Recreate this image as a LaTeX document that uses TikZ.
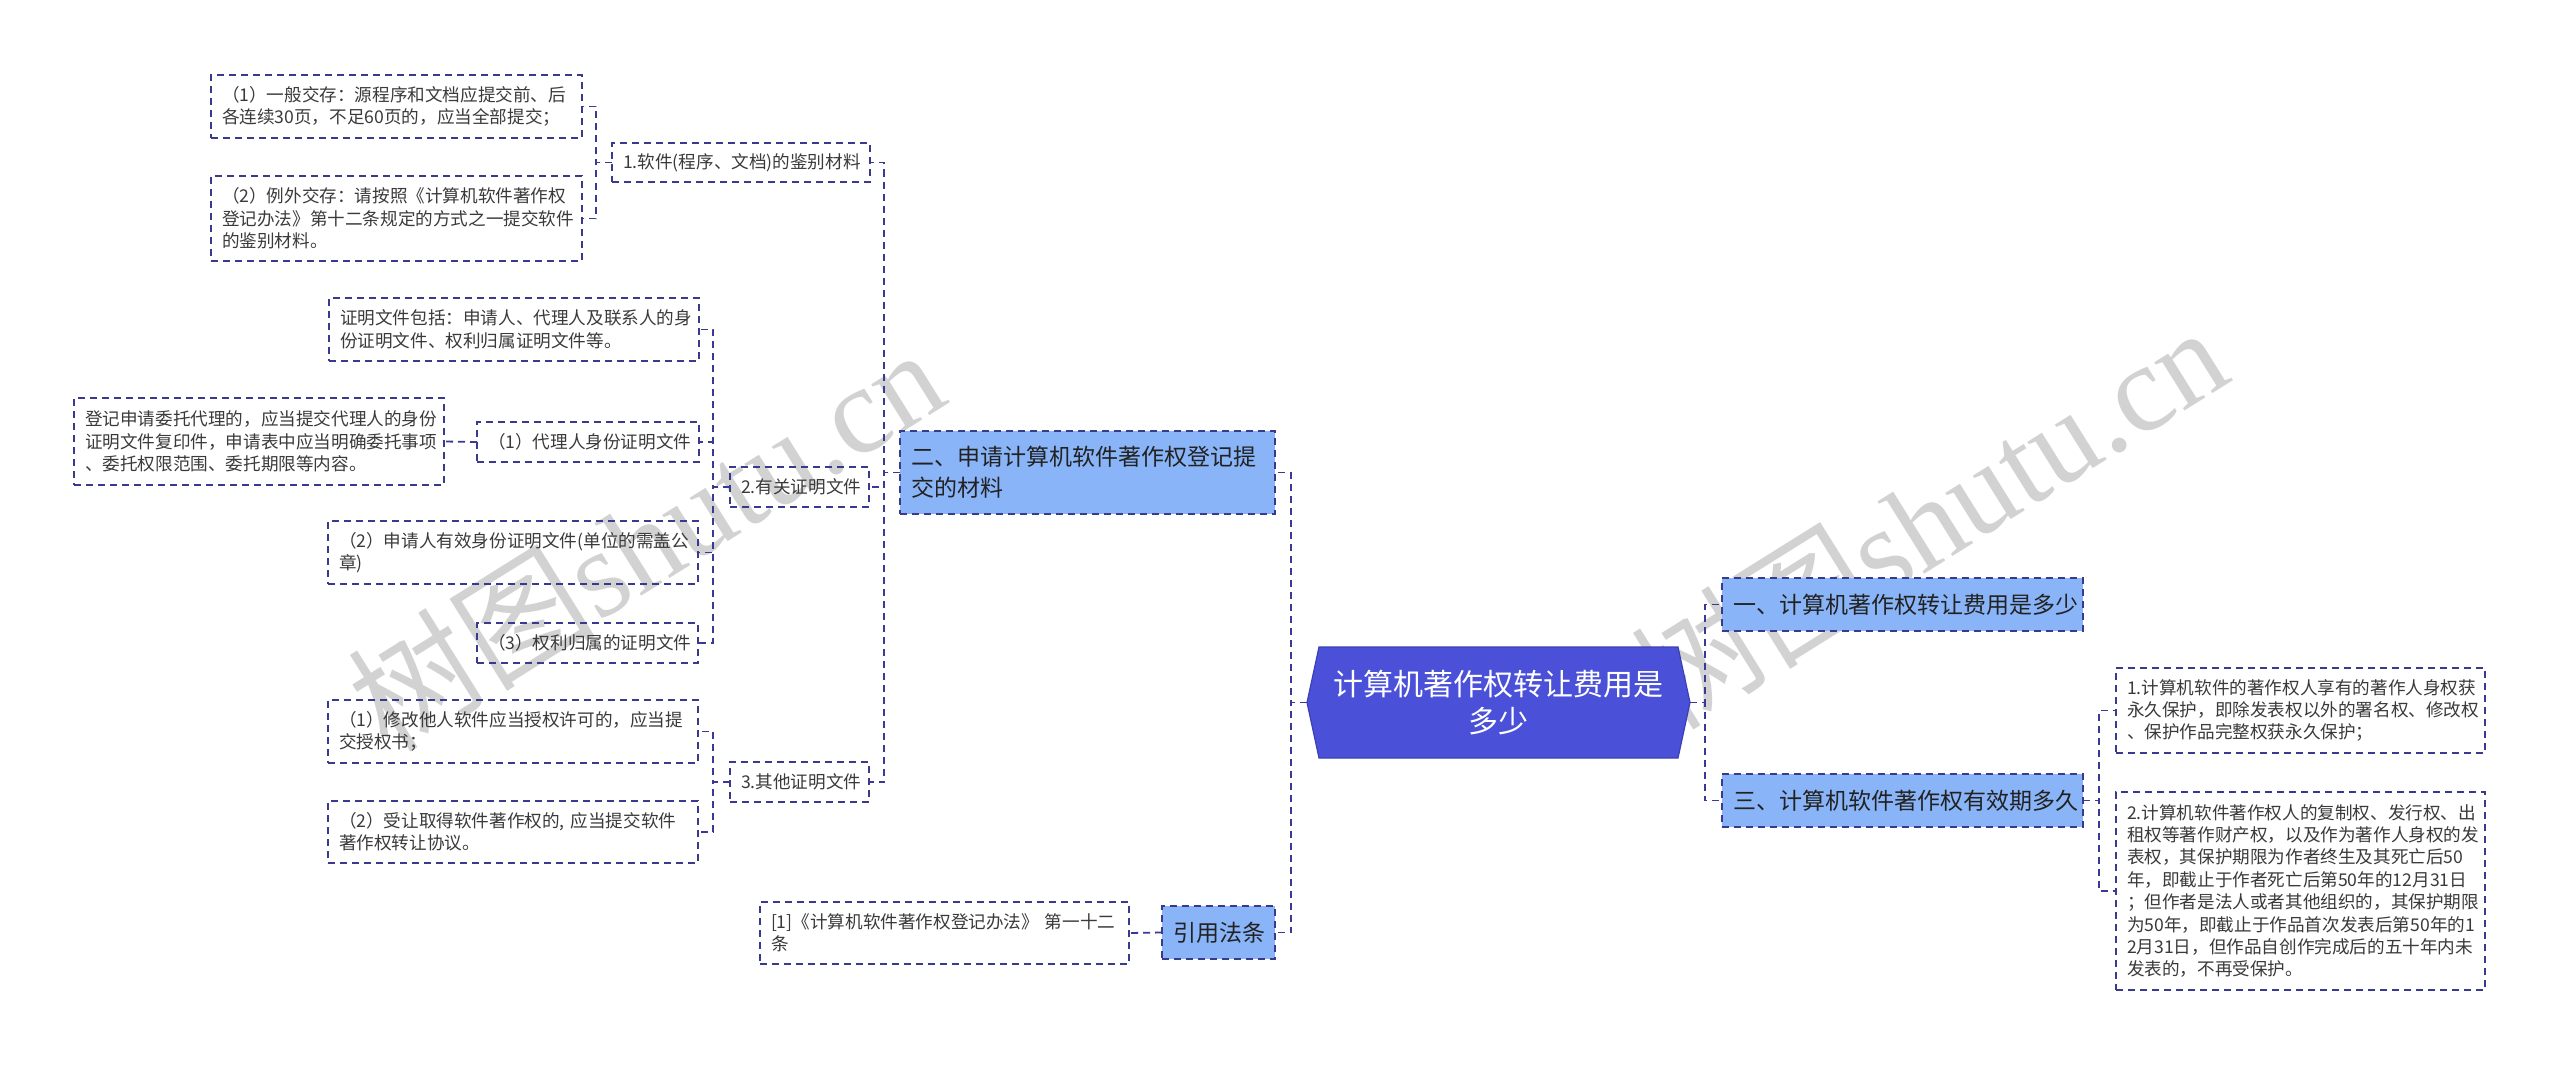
\documentclass[tikz,border=0pt]{standalone}
\usepackage{fontspec}
\setmainfont{Noto Sans CJK SC}
\newfontfamily\wmlatin{Liberation Serif}
\newfontfamily\wmcjk{Noto Sans CJK SC}
\definecolor{bordc}{HTML}{3A3A8C}
\definecolor{connc}{HTML}{3A3A96}
\definecolor{lvlfill}{HTML}{8AB4F8}
\definecolor{rootfill}{HTML}{4A50D8}
\definecolor{rootbord}{HTML}{3C40B4}
\definecolor{leaftext}{HTML}{3A3A3A}
\definecolor{lvltext}{HTML}{222222}
\definecolor{wmc}{HTML}{D2D2D2}
\tikzset{
  base/.style={outer sep=0pt, inner xsep=5.5pt, inner ysep=1pt, align=left, anchor=north west},
  leaf/.style={base, draw=bordc, line width=0.8pt, dash pattern=on 3.5pt off 2.5pt, text=leaftext, font=\fontsize{8.8pt}{11.2pt}\selectfont},
  lvl/.style={base, draw=bordc, fill=lvlfill, line width=0.8pt, dash pattern=on 3.5pt off 2.5pt, text=lvltext, font=\fontsize{11.5pt}{15.5pt}\selectfont},
  rootnode/.style={outer sep=0pt, inner sep=0pt, align=center, text=white, font=\fontsize{15pt}{18.75pt}\selectfont, minimum width=191.5pt, minimum height=55.5pt},
  conn/.style={draw=connc, line width=0.9pt, dash pattern=on 3.5pt off 2.5pt},
  wm/.style={text=wmc, rotate=32, inner sep=0pt}
}
\newcommand\mybox[7]{%
  \pgfmathsetmacro\myBW{(#5-#3)*0.5}%
  \pgfmathsetmacro\myBH{(#6-#4)*0.5}%
  \pgfmathsetmacro\myTW{(#5-#3)*0.5-11}%
  \node[#1, minimum width=\myBW pt, minimum height=\myBH pt, text width=\myTW pt] (#2) at (#3,#4) {#7};}
\begin{document}
\begin{tikzpicture}[x=0.5pt,y=-0.5pt]
\useasboundingbox (0,0) rectangle (2560,1065);
\fill[white] (0,0) rectangle (2560,1065);
% watermarks
\node[wm] (wmL) at (645,538) {\fontsize{62pt}{62pt}\selectfont\wmcjk 树图\wmlatin shutu.cn};
\node[wm] (wmR) at (1928,516) {\fontsize{62pt}{62pt}\selectfont\wmcjk 树图\wmlatin shutu.cn};
% root hexagon
\filldraw[fill=rootfill, draw=rootbord, line width=0.6pt] (1319,647) -- (1678,647) -- (1690,702.5) -- (1678,758) -- (1319,758) -- (1307,702.5) -- cycle;
\node[rootnode] (root) at (1498.5,702.5) {计算机著作权转让费用是\\多少};
% level 1
\mybox{lvl}{L1}{1722}{578}{2083}{631}{一、计算机著作权转让费用是多少}
\mybox{lvl}{L3}{1722}{774}{2083}{827}{三、计算机软件著作权有效期多久}
\mybox{lvl}{L2}{900}{431}{1275}{514}{二、申请计算机软件著作权登记提\\交的材料}
\mybox{lvl}{L4}{1162}{906}{1275}{959}{引用法条}
% right leaves
\mybox{leaf}{D1}{2116}{668}{2485}{753}{1.计算机软件的著作权人享有的著作人身权获\\永久保护，即除发表权以外的署名权、修改权\\、保护作品完整权获永久保护；}
\mybox{leaf}{D2}{2116}{792}{2485}{990}{2.计算机软件著作权人的复制权、发行权、出\\租权等著作财产权，以及作为著作人身权的发\\表权，其保护期限为作者终生及其死亡后50\\年，即截止于作者死亡后第50年的12月31日\\；但作者是法人或者其他组织的，其保护期限\\为50年，即截止于作品首次发表后第50年的1\\2月31日，但作品自创作完成后的五十年内未\\发表的，不再受保护。}
% citation
\mybox{leaf}{R1}{760}{902}{1129}{964}{[1]《计算机软件著作权登记办法》 第一十二\\条}
% second level
\mybox{leaf}{S1}{612}{143}{870}{182}{1.软件(程序、文档)的鉴别材料}
\mybox{leaf}{S2}{730}{467}{869}{507}{2.有关证明文件}
\mybox{leaf}{S3}{730}{762}{869}{802}{3.其他证明文件}
% S1 children
\mybox{leaf}{A1}{211}{75}{582}{138}{（1）一般交存：源程序和文档应提交前、后\\各连续30页，不足60页的，应当全部提交；}
\mybox{leaf}{A2}{211}{176}{582}{261}{（2）例外交存：请按照《计算机软件著作权\\登记办法》第十二条规定的方式之一提交软件\\的鉴别材料。}
% S2 children
\mybox{leaf}{B0}{329}{298}{699}{361}{证明文件包括：申请人、代理人及联系人的身\\份证明文件、权利归属证明文件等。}
\mybox{leaf}{B1}{477}{422}{699}{462}{（1）代理人身份证明文件}
\mybox{leaf}{B1L}{74}{398}{444}{485}{登记申请委托代理的，应当提交代理人的身份\\证明文件复印件，申请表中应当明确委托事项\\、委托权限范围、委托期限等内容。}
\mybox{leaf}{B2}{328}{521}{698}{584}{（2）申请人有效身份证明文件(单位的需盖公\\章)}
\mybox{leaf}{B3}{477}{623}{698}{663}{（3）权利归属的证明文件}
% S3 children
\mybox{leaf}{C1}{328}{700}{698}{763}{（1）修改他人软件应当授权许可的，应当提\\交授权书；}
\mybox{leaf}{C2}{328}{801}{698}{863}{（2）受让取得软件著作权的, 应当提交软件\\著作权转让协议。}
% connectors
\draw[conn] (root.west) -- ++(-16,0) |- (L2.east);
\draw[conn] (root.west) -- ++(-16,0) |- (L4.east);
\draw[conn] (root.east) -- ++(15,0) |- (L1.west);
\draw[conn] (root.east) -- ++(15,0) |- (L3.west);
\draw[conn] (L3.east) -- ++(16,0) |- (D1.west);
\draw[conn] (L3.east) -- ++(16,0) |- (D2.west);
\draw[conn] (L4.west) -- (R1.east);
\draw[conn] (L2.west) -- ++(-16,0) |- (S1.east);
\draw[conn] (L2.west) -- ++(-16,0) |- (S2.east);
\draw[conn] (L2.west) -- ++(-16,0) |- (S3.east);
\draw[conn] (S1.west) -- ++(-16,0) |- (A1.east);
\draw[conn] (S1.west) -- ++(-16,0) |- (A2.east);
\draw[conn] (S2.west) -- ++(-17,0) |- (B0.east);
\draw[conn] (S2.west) -- ++(-17,0) |- (B1.east);
\draw[conn] (S2.west) -- ++(-17,0) |- (B2.east);
\draw[conn] (S2.west) -- ++(-17,0) |- (B3.east);
\draw[conn] (B1.west) -- (B1L.east);
\draw[conn] (S3.west) -- ++(-17,0) |- (C1.east);
\draw[conn] (S3.west) -- ++(-17,0) |- (C2.east);
\end{tikzpicture}
\end{document}
